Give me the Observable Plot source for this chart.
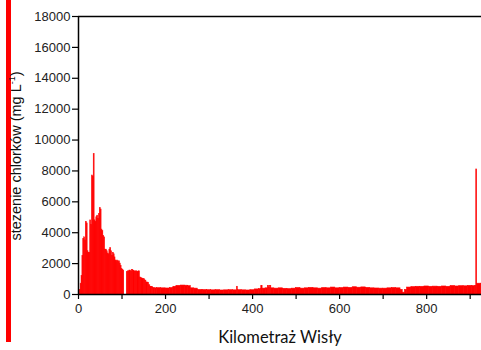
<!DOCTYPE html>
<html>
<head>
<meta charset="utf-8">
<script src="https://cdn.jsdelivr.net/npm/d3@7"></script>
<script src="https://cdn.jsdelivr.net/npm/@observablehq/plot@0.6"></script>
<style>
  html, body { margin: 0; padding: 0; background: #fff; }
  #wrap { position: relative; width: 481px; height: 350px; overflow: hidden; }
  #bar { position: absolute; left: 6px; top: 0; width: 5px; height: 342px; background: #ff0000; }
</style>
</head>
<body>
<div id="wrap"><div id="bar"></div></div>
<script>
// River kilometre (start of each bar) and chloride concentration (mg/L)
const km = [
  3, 5, 7, 9, 11, 13, 15, 17, 19, 21, 23, 25, 27, 29, 31, 33, 35, 37, 39, 41,
  43, 45, 47, 49, 51, 53, 55, 57, 59, 61, 63, 65, 67, 69, 71, 73, 75, 77, 79, 81,
  83, 85, 87, 89, 91, 93, 95, 97, 99, 101, 103, 105, 111, 114, 117, 120, 123, 126, 129, 132,
  135, 138, 141, 144, 147, 150, 153, 156, 159, 162, 165, 168, 171, 175, 180, 190, 200, 210, 218, 225,
  235, 245, 252, 258, 266, 274, 285, 295, 305, 315, 325, 335, 345, 355, 364, 366, 375, 385, 395, 405,
  415, 420, 423, 430, 435, 438, 440, 443, 450, 460, 470, 480, 490, 500, 510, 520, 530, 540, 550, 560,
  570, 580, 590, 600, 610, 620, 630, 640, 650, 660, 670, 680, 690, 700, 710, 720, 730, 740, 745, 750,
  755, 765, 775, 785, 795, 805, 815, 825, 835, 845, 855, 865, 875, 885, 895, 905, 912, 914, 916, 925
];
const chloride = [
  300, 700, 1200, 2500, 3600, 3700, 3500, 4700, 4600, 2800, 2700, 2700, 4800, 4500, 7700, 7600, 9100, 4800, 4700, 5000,
  5100, 4900, 5200, 5600, 5500, 4200, 4100, 3800, 3700, 2900, 2900, 2800, 2650, 2600, 2900, 3000, 2800, 2500, 2700, 2600,
  2400, 2200, 2150, 2200, 2100, 2150, 2000, 1850, 1650, 1600, 1550, 0, 1450, 1500, 1550, 1500, 1580, 1520, 1480, 1500,
  1450, 1500, 1100, 1050, 1000, 990, 900, 780, 760, 600, 500, 480, 420, 400, 410, 400, 390, 420, 500, 560,
  580, 570, 540, 400, 380, 300, 290, 280, 270, 280, 260, 270, 280, 270, 500, 280, 270, 260, 280, 330,
  350, 560, 380, 400, 560, 420, 550, 400, 380, 400, 370, 350, 380, 420, 380, 400, 430, 400, 380, 420,
  400, 450, 400, 420, 450, 430, 470, 440, 460, 430, 400, 390, 380, 380, 400, 420, 400, 300, 120, 300,
  450, 480, 500, 500, 520, 500, 510, 500, 520, 500, 550, 520, 540, 530, 560, 540, 560, 8100, 700, 700
];
const xTicks = [0, 100, 200, 300, 400, 500, 600, 700, 800, 900];
const yTicks = [0, 2000, 4000, 6000, 8000, 10000, 12000, 14000, 16000, 18000];
const xTitle = "Kilometraż Wisły";
const yTitle = "stezenie chlorków (mg L";

const bars = km.map((k, i) => ({x1: k, x2: i + 1 < km.length ? km[i + 1] : 930, y: chloride[i]}));

const chart = Plot.plot({
  width: 481,
  height: 350,
  marginLeft: 78,
  marginRight: 0,
  marginTop: 16,
  marginBottom: 56,
  style: {fontFamily: "'Liberation Sans', Arial, sans-serif", fontSize: "13px", color: "#222", background: "transparent"},
  x: {domain: [0, 926]},
  y: {domain: [0, 18000]},
  marks: [
    Plot.rectY(bars, {x1: "x1", x2: "x2", y: "y", fill: "#ff0000", stroke: "#ff0000", strokeWidth: 0.6, clip: true}),
    Plot.axisX({ticks: xTicks, tickSize: 5, tickPadding: 4, tickFormat: d => d % 200 === 0 ? String(d) : "", label: null, stroke: "#000", strokeWidth: 1.2}),
    Plot.axisY({ticks: yTicks, tickSize: 6, tickPadding: 2, tickFormat: d => String(d), label: null, stroke: "#000", strokeWidth: 1.2}),
    Plot.ruleX([0], {stroke: "#000", strokeWidth: 1.5}),
    Plot.ruleY([0, 18000], {stroke: "#000", strokeWidth: 1.5})
  ]
});
chart.style.position = "absolute";
chart.style.left = "0px";
chart.style.top = "0px";
document.getElementById("wrap").appendChild(chart);

const svg = d3.select(chart);
svg.append("text")
  .attr("x", 280).attr("y", 343)
  .attr("text-anchor", "middle")
  .style("font-family", "Lato, 'Open Sans', sans-serif")
  .style("font-size", "16.5px")
  .attr("fill", "#111")
  .text(xTitle);
const yt = svg.append("text")
  .attr("transform", "translate(21,156) rotate(-90)")
  .attr("text-anchor", "middle")
  .style("font-family", "'Liberation Sans', Arial, sans-serif")
  .style("font-size", "14.5px")
  .attr("fill", "#111");
yt.append("tspan").text(yTitle);
yt.append("tspan").attr("dy", -6).style("font-size", "9px").text("-1");
yt.append("tspan").attr("dy", 6).text(")");
</script>
</body>
</html>
